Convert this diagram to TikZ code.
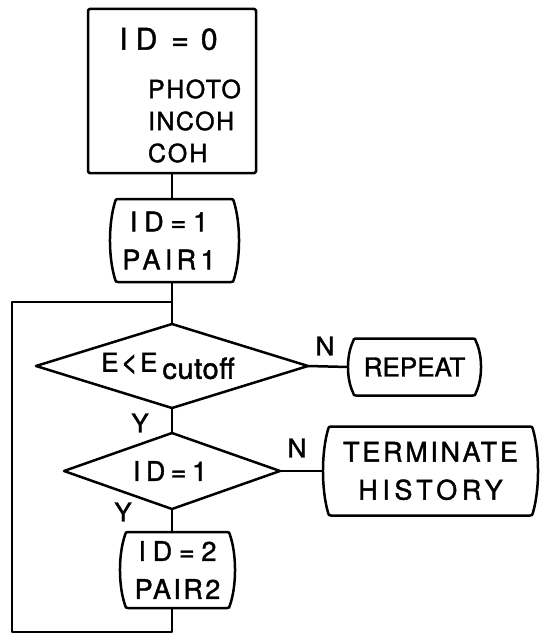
\documentclass[tikz,border=0pt]{standalone}
\usepackage{fontspec}
\setmainfont[FakeBold=1.4]{TeX Gyre Heros}
\usetikzlibrary{calc}
\newcommand\LS[2]{{\addfontfeature{LetterSpace=#1}#2}}
% outline of a box with bulging sides and rounded corners
\newcommand\bulgebox[1]{%
  \draw[ln] let \p1=(#1.north west), \p2=(#1.south east), \n1={0.3*(\y1-\y2)} in
    (\x1+8pt,\y1) -- (\x2-8pt,\y1)
    .. controls (\x2-6pt,\y1) and (\x2-5.5pt,\y1-0.5pt) .. (\x2-5pt,\y1-3pt)
    .. controls ({\x2+1.7pt},{\y1-\n1*1pt}) and ({\x2+1.7pt},{\y2+\n1*1pt}) .. (\x2-5pt,\y2+3pt)
    .. controls (\x2-5.5pt,\y2+0.5pt) and (\x2-6pt,\y2) .. (\x2-8pt,\y2)
    -- (\x1+8pt,\y2)
    .. controls (\x1+6pt,\y2) and (\x1+5.5pt,\y2+0.5pt) .. (\x1+5pt,\y2+3pt)
    .. controls ({\x1-1.7pt},{\y2+\n1*1pt}) and ({\x1-1.7pt},{\y1-\n1*1pt}) .. (\x1+5pt,\y1-3pt)
    .. controls (\x1+5.5pt,\y1-0.5pt) and (\x1+6pt,\y1) .. cycle;}
\newcommand\diam[1]{\draw[ln] (#1.north) -- (#1.east) -- (#1.south) -- (#1.west) -- cycle;}
\begin{document}
\begin{tikzpicture}[x=1pt,y=-1pt,
  ln/.style={line width=2.5pt,line join=round,line cap=round},
  every node/.style={inner sep=0pt,outer sep=0pt,font=\fontsize{27}{38}\selectfont,align=center},
  shp/.style 2 args={minimum width=#1pt,minimum height=#2pt},
  yn/.style={font=\fontsize{26}{26}\selectfont}]
\useasboundingbox (0,0) rectangle (541,634);
% shapes
\node[shp={168}{164}] (b0) at (172,91) {};
\draw[ln,rounded corners=1.5pt] (b0.north west) rectangle (b0.south east);
\node (t0) at (168.5,39) {\fontsize{30}{30}\selectfont I\hspace{8pt}D\hspace{14pt}=\hspace{12pt}0};
\node[anchor=west,align=left,font=\fontsize{25}{32}\selectfont] (t1) at (148,121)
  {\LS{6}{PHOTO}\\\LS{6}{INCOH}\\\LS{8}{COH}};
\node[shp={129}{83}] (p1) at (174.5,240.5) {\LS{25}{ID=1}\hspace*{11pt}\\\LS{16}{PAIR\,1}\hspace*{11pt}};
\bulgebox{p1}
\coordinate (j1) at (172,302);
\node[shp={272}{84}] (d1) at (172,366) {\fontsize{26}{26}\selectfont E\hspace{2pt}{\fontsize{30}{30}\selectfont<}\hspace{2pt}E\hspace{5pt}\raisebox{-7pt}{\fontsize{29}{29}\selectfont\LS{2}{cutoff}}\hspace*{8pt}};
\diam{d1}
\node[shp={133}{57}] (rp) at (414.5,367) {\fontsize{26}{26}\selectfont REPEAT};
\bulgebox{rp}
\node[shp={216}{76}] (d2) at (172,471) {\LS{20}{ID=1}\hspace*{4pt}};
\diam{d2}
\node[shp={215}{89}] (tm) at (430.5,471) {\LS{10}{TERMINATE}\\\LS{17}{HISTORY}};
\bulgebox{tm}
\node[shp={115}{76}] (p2) at (177.5,570) {\LS{25}{ID=2}\\\LS{9}{PAIR2}};
\bulgebox{p2}
\coordinate (c1) at (172,632);
\coordinate (c2) at (12,632);
\coordinate (c3) at (12,302);
% connectors
\draw[ln] (b0.south) -- (b0.south |- p1.north);
\draw[ln] (b0.south |- p1.south) -- (j1) -- (d1.north);
\draw[ln] (d1.east) -- (rp.west);
\draw[ln] (d1.south) -- (d2.north);
\draw[ln] (d2.east) -- (tm.west);
\draw[ln] (d2.south) -- (d2.south |- p2.north);
\draw[ln] (d2.south |- p2.south) -- (c1) -- (c2) -- (c3) -- (j1);
% labels
\node[yn] (n1) at (325,346) {N};
\node[yn] (n2) at (297,448) {N};
\node[yn] (y1) at (140,423) {Y};
\node[yn] (y2) at (123,512) {Y};
\end{tikzpicture}
\end{document}
